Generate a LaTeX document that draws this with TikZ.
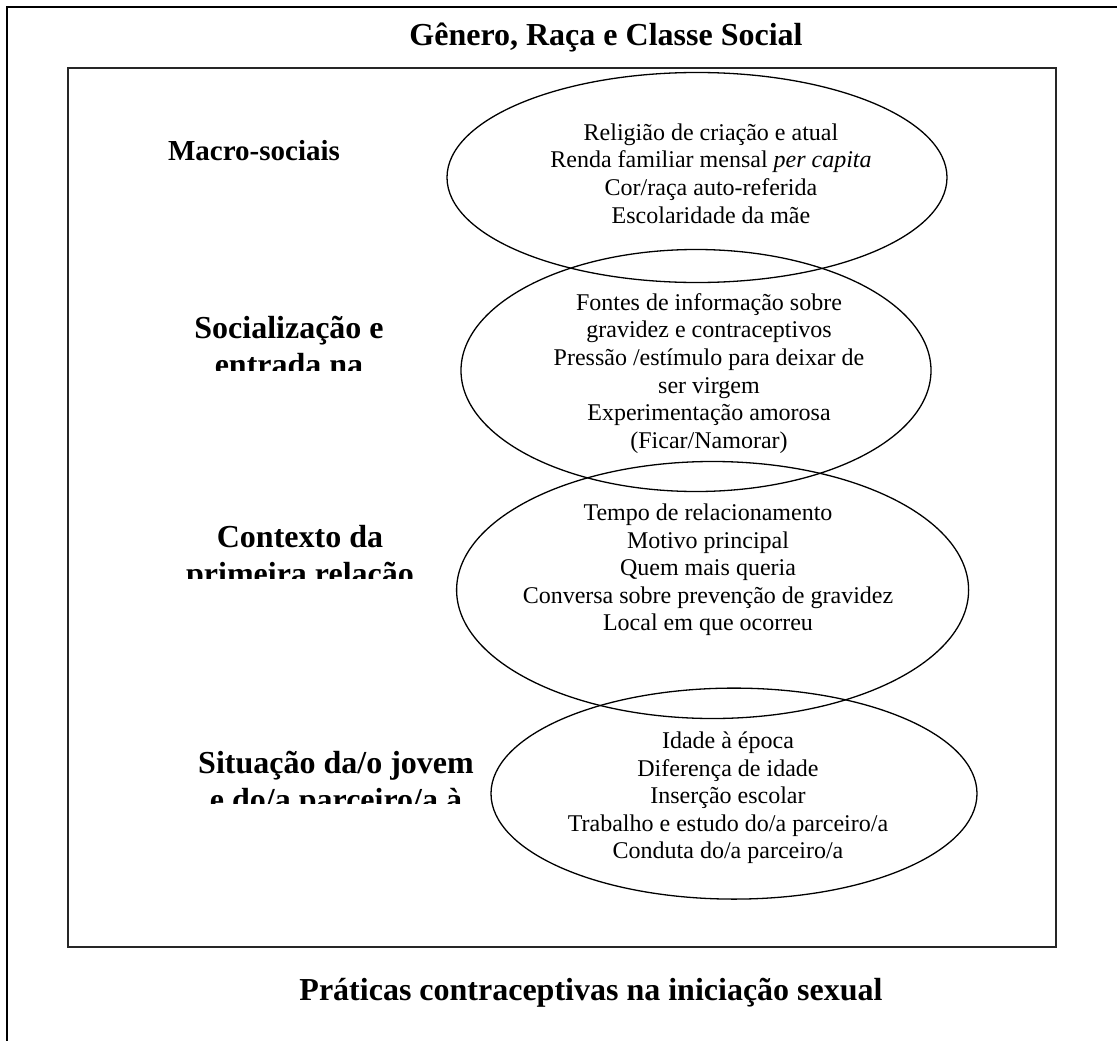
\documentclass[tikz,border=0pt]{standalone}
\usepackage{fontspec}
\setmainfont{Liberation Serif}
\usetikzlibrary{shapes.geometric}
\begin{document}
\begin{tikzpicture}[x=1pt,y=-1pt,
  oval/.style={draw, ellipse, line width=1.3pt, inner sep=0pt, outer sep=0pt},
  big/.style={font=\fontsize{32}{36.8}\selectfont\bfseries, inner sep=0pt, anchor=base},
  item/.style={font=\fontsize{24}{27.6}\selectfont, align=center, inner sep=0pt}]
\useasboundingbox (0,0) rectangle (1117,1041);
% outer frame (top and left edges)
\coordinate (otl) at (7.3,7.3);
\coordinate (otr) at (1117,7.3);
\coordinate (obl) at (7.3,1041);
\draw[line width=2pt] (otr) -- (otl) -- (obl);
% inner frame
\node[draw=black!85, line width=1.5pt, minimum width=988, minimum height=879,
      inner sep=0pt, outer sep=0pt, anchor=north west] (frame) at (68,68) {};
% titles
\node[big] (title) at (606,46) {Gênero, Raça e Classe Social};
\node[big] (bottom) at (591,1000) {Práticas contraceptivas na iniciação sexual};
% ellipses
\node[oval, minimum width=500, minimum height=210] (e1) at (697,177.5) {};
\node[oval, minimum width=470, minimum height=242] (e2) at (696,370.5) {};
\node[oval, minimum width=512, minimum height=257] (e3) at (712.6,590) {};
\node[oval, minimum width=486, minimum height=211] (e4) at (734,793.6) {};
% ellipse texts
\node[item] (t1) at (711,173.5) {Religião de criação e atual\\Renda familiar mensal \textit{per capita}\\Cor/raça auto-referida\\Escolaridade da mãe};
\node[item] (t2) at (709,373.5) {Fontes de informação sobre\\gravidez e contraceptivos\\Pressão /estímulo para deixar de\\ser virgem\\Experimentação amorosa\\(Ficar/Namorar)};
\node[item] (t3) at (708,570) {Tempo de relacionamento\\Motivo principal\\Quem mais queria\\Conversa sobre prevenção de gravidez\\Local em que ocorreu};
\node[item] (t4) at (728,798) {Idade à época\\Diferença de idade\\Inserção escolar\\Trabalho e estudo do/a parceiro/a\\Conduta do/a parceiro/a};
% side labels
\node[big, font=\fontsize{29}{33}\selectfont\bfseries] (l1) at (254,160) {Macro-sociais};
\begin{scope}
  \clip (100,290) rectangle (480,370);
  \node[big] (l2a) at (289,338) {Socialização e};
  \node[big] (l2b) at (289,375) {entrada na};
\end{scope}
\begin{scope}
  \clip (100,500) rectangle (480,578);
  \node[big] (l3a) at (300,547) {Contexto da};
  \node[big] (l3b) at (300,584) {primeira relação};
\end{scope}
\begin{scope}
  \clip (100,725) rectangle (488,803);
  \node[big] (l4a) at (336,773) {Situação da/o jovem};
  \node[big] (l4b) at (336,810) {e do/a parceiro/a à};
\end{scope}
\end{tikzpicture}
\end{document}
